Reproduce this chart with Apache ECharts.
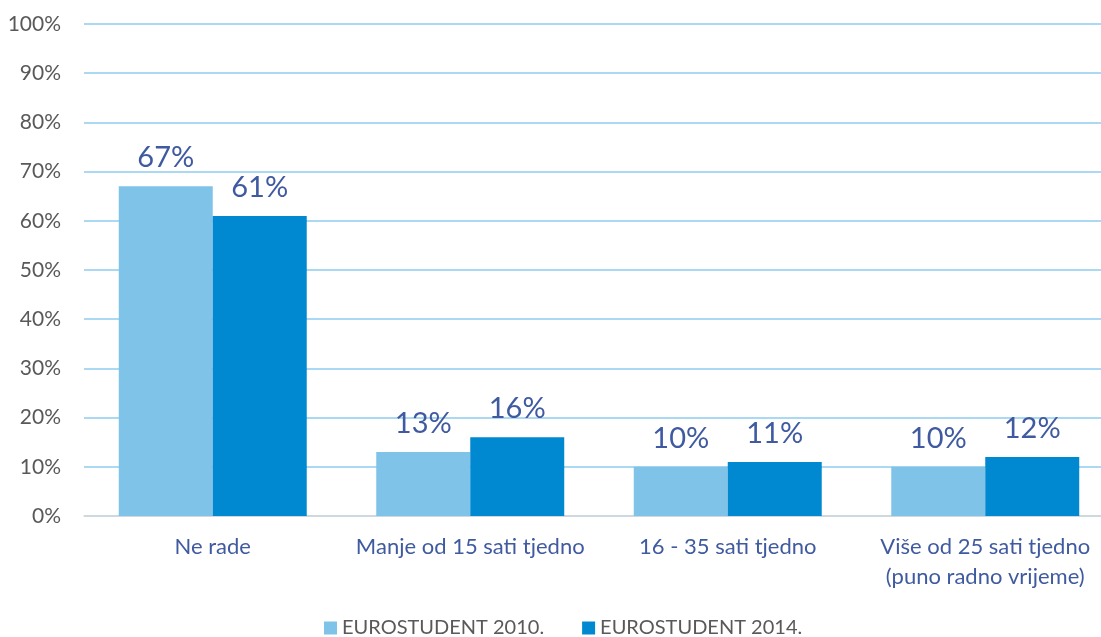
<!DOCTYPE html>
<html>
<head>
<meta charset="utf-8">
<script src="https://cdn.jsdelivr.net/npm/echarts@6/dist/echarts.min.js"></script>
<style>html,body{margin:0;padding:0;background:#fff;}#c{width:1101px;height:637px;}</style>
</head>
<body>
<div id="c"></div>
<script>
const categories = ['Ne rade', 'Manje od 15 sati tjedno', '16 - 35 sati tjedno', 'Više od 25 sati tjedno\n(puno radno vrijeme)'];
const series2010 = [67, 13, 10, 10];
const series2014 = [61, 16, 11, 12];
const seriesNames = ['EUROSTUDENT 2010.', 'EUROSTUDENT 2014.'];

const FONT = 'Lato, "Open Sans", sans-serif';
const chart = echarts.init(document.getElementById('c'), null, {renderer: 'canvas'});
const labelCfg = {
  show: true, position: 'top', distance: 14,
  formatter: p => p.value + '%',
  color: '#3F5AA0', fontSize: 29, fontFamily: FONT
};
chart.setOption({
  animation: false,
  grid: {left: 84, width: 1030, top: 24, bottom: 121, containLabel: false, outerBoundsMode: 'none'},
  legend: {
    top: 618, left: 324, padding: 0, itemWidth: 13, itemHeight: 13, itemGap: 38,
    icon: 'rect',
    textStyle: {color: '#595959', fontSize: 20, fontFamily: FONT},
    data: seriesNames
  },
  xAxis: {
    type: 'category', data: categories,
    axisLine: {lineStyle: {color: '#D9D9D9', width: 1.5}},
    axisTick: {show: false},
    axisLabel: {color: '#3F5AA0', fontSize: 22, fontFamily: FONT, margin: 16, lineHeight: 30, interval: 0},
    outerBoundsMode: 'none'
  },
  yAxis: {
    type: 'value', min: 0, max: 100, interval: 10,
    axisLine: {show: false}, axisTick: {show: false},
    axisLabel: {formatter: '{value}%', color: '#595959', fontSize: 21, fontFamily: FONT, margin: 23},
    splitLine: {lineStyle: {color: '#8FCBEE', width: 1.5}}
  },
  series: [
    {name: seriesNames[0], type: 'bar', data: series2010, barGap: '0%', barCategoryGap: '27%',
     itemStyle: {color: '#7FC3E8'}, label: labelCfg},
    {name: seriesNames[1], type: 'bar', data: series2014,
     itemStyle: {color: '#0088D1'}, label: labelCfg}
  ]
});
</script>
</body>
</html>
